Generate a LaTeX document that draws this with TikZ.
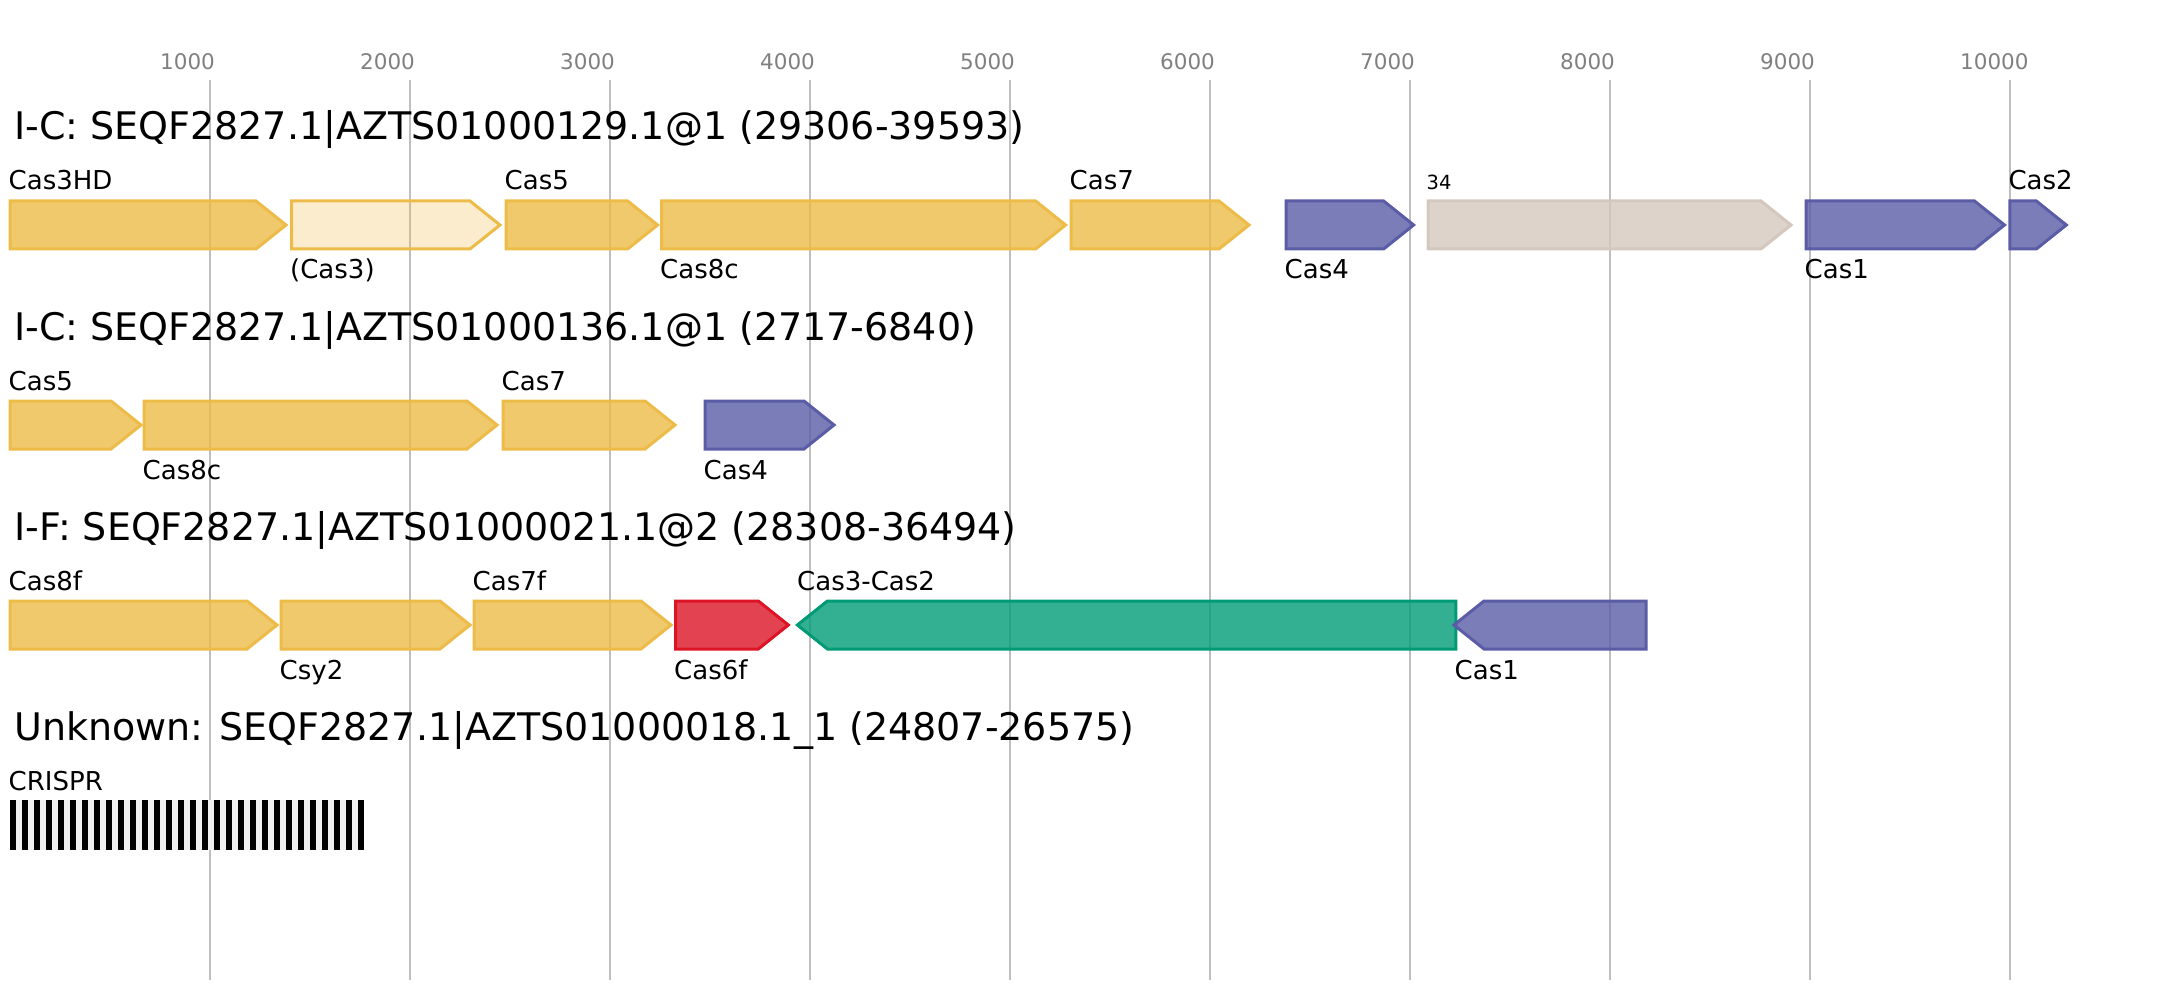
\documentclass[tikz,border=0pt]{standalone}
\usepackage{fontspec}
\setmainfont{DejaVu Sans}
\definecolor{casyel}{RGB}{237,187,72}
\definecolor{casblu}{RGB}{90,92,166}
\definecolor{casgry}{RGB}{212,200,190}
\definecolor{casred}{RGB}{220,20,38}
\definecolor{casgrn}{RGB}{0,155,118}
\definecolor{gridc}{RGB}{191,191,191}
\definecolor{tickc}{RGB}{128,128,128}
\definecolor{crgry}{RGB}{240,240,240}
\tikzset{%
    grd/.style={draw=gridc,line width=2pt},
    tck/.style={anchor=base west,inner sep=0pt,text=tickc,font=\fontsize{21.5}{25}\selectfont},
    ttl/.style={anchor=base west,inner sep=0pt,font=\fontsize{38}{45}\selectfont},
    lbl/.style={anchor=base west,inner sep=0pt,font=\fontsize{26}{30}\selectfont},
    slbl/.style={lbl,font=\fontsize{19.5}{22}\selectfont},
    gn/.style={line width=3pt,line join=miter,fill opacity=0.8},
    yel/.style={gn,draw=casyel,fill=casyel},
    lyel/.style={yel,fill opacity=0.28},
    blu/.style={gn,draw=casblu,fill=casblu},
    gry/.style={gn,draw=casgry,fill=casgry},
    red/.style={gn,draw=casred,fill=casred},
    grn/.style={gn,draw=casgrn,fill=casgrn}
}
% forward gene: style, left, tip, centre row
\newcommand{\fgene}[4]{\draw[#1] (#2,#4-24) -- (#3-30,#4-24) -- (#3,#4)
    -- (#3-30,#4+24) -- (#2,#4+24) -- cycle;}
% reverse gene: style, tip, right, centre row
\newcommand{\rgene}[4]{\draw[#1] (#3,#4-24) -- (#2+30,#4-24) -- (#2,#4)
    -- (#2+30,#4+24) -- (#3,#4+24) -- cycle;}

\begin{document}
\begin{tikzpicture}[x=1pt,y=-1pt]
    \useasboundingbox (0,0) rectangle (2157,1000);
    %% scale
    \foreach \k in {1,...,10} {
        \draw[grd] (10+200*\k,80) -- (10+200*\k,980);
        \node[tck] (t\k) at (10+200*\k-50,70) {\k000};
    }
    %% I-C, contig 129
    \node[ttl] (ttl1) at (14,140) {I-C: SEQF2827.1|AZTS01000129.1@1 (29306-39593)};
    \fgene{yel}{10}{286}{225}
    \fgene{lyel}{291.5}{500}{225}
    \fgene{yel}{506}{657.6}{225}
    \fgene{yel}{661.5}{1065.6}{225}
    \fgene{yel}{1071}{1249}{225}
    \fgene{blu}{1286}{1413.6}{225}
    \fgene{gry}{1428}{1791}{225}
    \fgene{blu}{1806}{2004.5}{225}
    \fgene{blu}{2009.8}{2066.3}{225}
    \node[lbl] (a-cas3hd) at (8.5,190) {Cas3HD};
    \node[lbl] (a-cas3) at (290,279) {(Cas3)};
    \node[lbl] (a-cas5) at (504.5,190) {Cas5};
    \node[lbl] (a-cas8c) at (660,279) {Cas8c};
    \node[lbl] (a-cas7) at (1069.5,190) {Cas7};
    \node[lbl] (a-cas4) at (1284.5,279) {Cas4};
    \node[slbl] (a-34) at (1426.5,190) {34};
    \node[lbl] (a-cas1) at (1804.5,279) {Cas1};
    \node[lbl] (a-cas2) at (2008.3,190) {Cas2};
    %% I-C, contig 136
    \node[ttl] (ttl2) at (14,340) {I-C: SEQF2827.1|AZTS01000136.1@1 (2717-6840)};
    \fgene{yel}{10}{141}{425}
    \fgene{yel}{144}{497}{425}
    \fgene{yel}{503}{675}{425}
    \fgene{blu}{705}{834}{425}
    \node[lbl] (b-cas5) at (8.5,390) {Cas5};
    \node[lbl] (b-cas8c) at (142.5,479) {Cas8c};
    \node[lbl] (b-cas7) at (501.5,390) {Cas7};
    \node[lbl] (b-cas4) at (703.5,479) {Cas4};
    %% I-F, contig 21
    \node[ttl] (ttl3) at (14,540) {I-F: SEQF2827.1|AZTS01000021.1@2 (28308-36494)};
    \fgene{yel}{10}{277}{625}
    \fgene{yel}{281}{470}{625}
    \fgene{yel}{474}{671}{625}
    \fgene{red}{675.5}{788.3}{625}
    \rgene{grn}{797.4}{1455.8}{625}
    \rgene{blu}{1454}{1646}{625}
    \node[lbl] (c-cas8f) at (8.5,590) {Cas8f};
    \node[lbl] (c-csy2) at (279.5,679) {Csy2};
    \node[lbl] (c-cas7f) at (472.5,590) {Cas7f};
    \node[lbl] (c-cas6f) at (674,679) {Cas6f};
    \node[lbl] (c-cas3cas2) at (797,590) {Cas3-Cas2};
    \node[lbl] (c-cas1) at (1454.5,679) {Cas1};
    %% Unknown, contig 18
    \node[ttl] (ttl4) at (14,740) {Unknown: SEQF2827.1|AZTS01000018.1\_1 (24807-26575)};
    \fill[crgry] (10,800) rectangle (363.5,850);
    \foreach \i in {0,...,29}
        \fill[black] (10+12*\i,800) rectangle (15.5+12*\i,850);
    \node[lbl] (d-crispr) at (8.5,790) {CRISPR};
\end{tikzpicture}
\end{document}
